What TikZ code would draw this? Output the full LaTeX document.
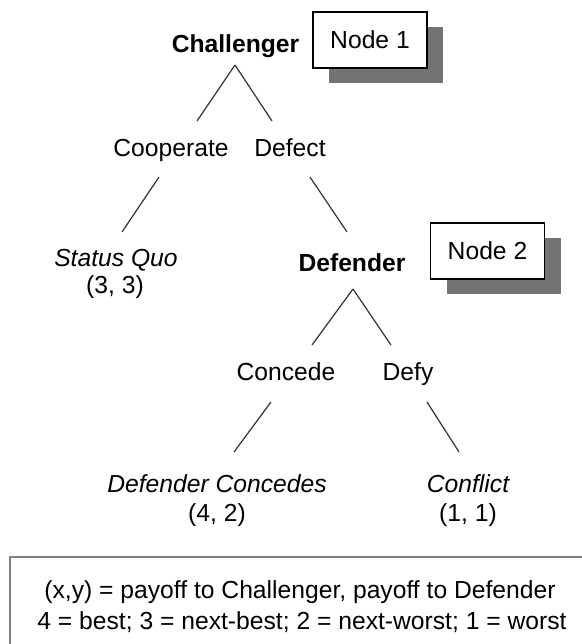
\documentclass[tikz,border=0pt]{standalone}
\usepackage{fontspec}
\setmainfont{Liberation Sans}
\usetikzlibrary{shadows}
\begin{document}
\begin{tikzpicture}[x=0.75pt,y=-0.75pt,
  txt/.style={inner sep=0pt,anchor=base,font=\fontsize{18.5}{22}\selectfont},
  bold/.style={txt,font=\fontsize{18.5}{22}\selectfont\bfseries},
  ital/.style={txt,font=\fontsize{18.5}{22}\selectfont\itshape},
  branch/.style={line width=0.9pt,draw=black!80},
  nodebox/.style={draw=black,line width=0.8pt,fill=white,minimum width=85.5pt,minimum height=42pt,inner sep=0pt,
    font=\fontsize{18.5}{22}\selectfont,
    drop shadow={shadow xshift=12pt,shadow yshift=-11.25pt,fill=black!55,opacity=1}},
  legendframe/.style={draw=black!50,line width=1.5pt}
]
\useasboundingbox (0,0) rectangle (582,644);
\clip (0,0) rectangle (582,644);
\fill[white] (0,0) rectangle (582,644);

% Challenger
\node[bold] (chal) at (235.5,52) {Challenger};
\node[nodebox] (n1) at (370,40) {Node 1};
\coordinate (chalapex) at (235,65);
\coordinate (coopend) at (197,121);
\coordinate (defend) at (272,121);
\draw[branch] (chalapex) -- (coopend);
\draw[branch] (chalapex) -- (defend);

\node[txt] (coop) at (171,156) {Cooperate};
\node[txt] (defect) at (290,156) {Defect};

\coordinate (cooptop) at (159,177);
\coordinate (sqend) at (122,232);
\coordinate (deftop) at (310,177);
\coordinate (dfend) at (347,232);
\draw[branch] (cooptop) -- (sqend);
\draw[branch] (deftop) -- (dfend);

\node[ital] (sq) at (116,266) {Status Quo};
\node[txt] (sqp) at (115,293) {(3, 3)};

% Defender
\node[bold] (dfd) at (352,271) {Defender};
\node[nodebox] (n2) at (487.5,251) {Node 2};
\coordinate (dfdapex) at (353,289);
\coordinate (concend) at (312,345);
\coordinate (defyend) at (391,345);
\draw[branch] (dfdapex) -- (concend);
\draw[branch] (dfdapex) -- (defyend);

\node[txt] (conc) at (286,380) {Concede};
\node[txt] (defy) at (408,380) {Defy};

\coordinate (conctop) at (271,402);
\coordinate (dcend) at (234,452);
\coordinate (defytop) at (427,402);
\coordinate (cfend) at (459,452);
\draw[branch] (conctop) -- (dcend);
\draw[branch] (defytop) -- (cfend);

\node[ital] (dc) at (217,492) {Defender Concedes};
\node[txt] (dcp) at (217,521) {(4, 2)};
\node[ital] (cf) at (468,492) {Conflict};
\node[txt] (cfp) at (468,521) {(1, 1)};

% Legend
\draw[legendframe] (10,557) rectangle (600,700);
\node[txt] (leg1) at (300,598) {(x,y) = payoff to Challenger, payoff to Defender};
\node[txt] (leg2) at (302,629) {4 = best; 3 = next-best; 2 = next-worst; 1 = worst};
\end{tikzpicture}
\end{document}
